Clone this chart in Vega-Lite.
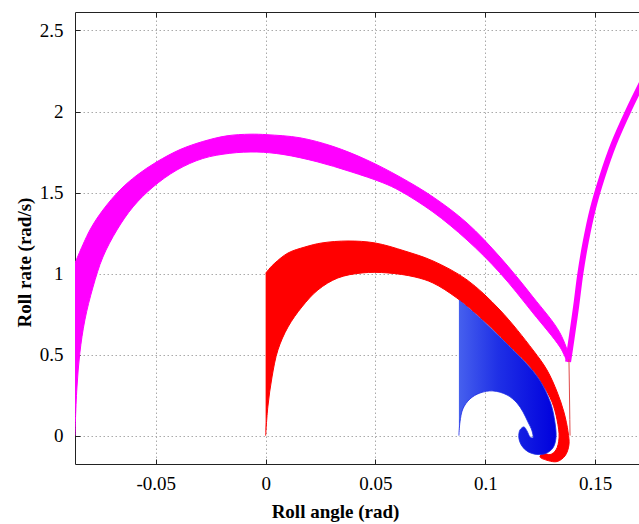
{
  "$schema": "https://vega.github.io/schema/vega-lite/v6.json",
  "width": 564,
  "height": 452,
  "autosize": {"type": "none"},
  "padding": {"left": 75, "top": 12, "right": 0, "bottom": 60},
  "background": "white",
  "config": {
    "view": {"stroke": null},
    "axis": {
      "domainColor": "#222222",
      "domainWidth": 1,
      "tickColor": "#222222",
      "tickSize": -5,
      "labelFontSize": 18,
      "labelColor": "#000000",
      "titleFontSize": 18,
      "titleFontWeight": "bold",
      "titleColor": "#000000",
      "gridColor": "#aaaaaa",
      "gridDash": [1.5, 2.5],
      "gridWidth": 1
    }
  },
  "datasets": {
    "pts": [
      {"s": "M", "i": 1, "x": -0.0868, "y": 1.065},
      {"s": "M", "i": 2, "x": -0.0800, "y": 1.269},
      {"s": "M", "i": 3, "x": -0.0741, "y": 1.392},
      {"s": "M", "i": 4, "x": -0.0663, "y": 1.516},
      {"s": "M", "i": 5, "x": -0.0586, "y": 1.607},
      {"s": "M", "i": 6, "x": -0.0495, "y": 1.690},
      {"s": "M", "i": 7, "x": -0.0390, "y": 1.765},
      {"s": "M", "i": 8, "x": -0.0286, "y": 1.815},
      {"s": "M", "i": 9, "x": -0.0176, "y": 1.850},
      {"s": "M", "i": 10, "x": -0.0071, "y": 1.860},
      {"s": "M", "i": 11, "x": 0.0006, "y": 1.857},
      {"s": "M", "i": 12, "x": 0.0156, "y": 1.838},
      {"s": "M", "i": 13, "x": 0.0306, "y": 1.785},
      {"s": "M", "i": 14, "x": 0.0461, "y": 1.701},
      {"s": "M", "i": 15, "x": 0.0612, "y": 1.596},
      {"s": "M", "i": 16, "x": 0.0762, "y": 1.473},
      {"s": "M", "i": 17, "x": 0.0917, "y": 1.312},
      {"s": "M", "i": 18, "x": 0.1067, "y": 1.102},
      {"s": "M", "i": 19, "x": 0.1217, "y": 0.856},
      {"s": "M", "i": 20, "x": 0.1340, "y": 0.634},
      {"s": "M", "i": 21, "x": 0.1381, "y": 0.479},
      {"s": "M", "i": 22, "x": 0.1377, "y": 0.455},
      {"s": "M", "i": 23, "x": 0.1340, "y": 0.547},
      {"s": "M", "i": 24, "x": 0.1217, "y": 0.757},
      {"s": "M", "i": 25, "x": 0.1067, "y": 1.004},
      {"s": "M", "i": 26, "x": 0.0917, "y": 1.207},
      {"s": "M", "i": 27, "x": 0.0762, "y": 1.380},
      {"s": "M", "i": 28, "x": 0.0612, "y": 1.510},
      {"s": "M", "i": 29, "x": 0.0534, "y": 1.560},
      {"s": "M", "i": 30, "x": 0.0384, "y": 1.630},
      {"s": "M", "i": 31, "x": 0.0234, "y": 1.690},
      {"s": "M", "i": 32, "x": 0.0079, "y": 1.735},
      {"s": "M", "i": 33, "x": -0.0040, "y": 1.750},
      {"s": "M", "i": 34, "x": -0.0163, "y": 1.742},
      {"s": "M", "i": 35, "x": -0.0286, "y": 1.710},
      {"s": "M", "i": 36, "x": -0.0404, "y": 1.639},
      {"s": "M", "i": 37, "x": -0.0513, "y": 1.534},
      {"s": "M", "i": 38, "x": -0.0604, "y": 1.411},
      {"s": "M", "i": 39, "x": -0.0677, "y": 1.269},
      {"s": "M", "i": 40, "x": -0.0741, "y": 1.102},
      {"s": "M", "i": 41, "x": -0.0786, "y": 0.917},
      {"s": "M", "i": 42, "x": -0.0823, "y": 0.714},
      {"s": "M", "i": 43, "x": -0.0846, "y": 0.510},
      {"s": "M", "i": 44, "x": -0.0859, "y": 0.300},
      {"s": "M", "i": 45, "x": -0.0866, "y": 0.097},
      {"s": "M", "i": 46, "x": -0.0868, "y": 0.0},

      {"s": "MB", "i": 1, "x": 0.1377, "y": 0.455},
      {"s": "MB", "i": 2, "x": 0.1393, "y": 0.600},
      {"s": "MB", "i": 3, "x": 0.1414, "y": 0.800},
      {"s": "MB", "i": 4, "x": 0.1433, "y": 1.000},
      {"s": "MB", "i": 5, "x": 0.1458, "y": 1.200},
      {"s": "MB", "i": 6, "x": 0.1490, "y": 1.400},
      {"s": "MB", "i": 7, "x": 0.1533, "y": 1.600},
      {"s": "MB", "i": 8, "x": 0.1585, "y": 1.800},
      {"s": "MB", "i": 9, "x": 0.1650, "y": 2.000},
      {"s": "MB", "i": 10, "x": 0.1722, "y": 2.200},

      {"s": "R", "i": 1, "x": 0.0000, "y": 1.002},
      {"s": "R", "i": 2, "x": 0.0020, "y": 1.035},
      {"s": "R", "i": 3, "x": 0.0042, "y": 1.065},
      {"s": "R", "i": 4, "x": 0.0102, "y": 1.127},
      {"s": "R", "i": 5, "x": 0.0179, "y": 1.164},
      {"s": "R", "i": 6, "x": 0.0256, "y": 1.189},
      {"s": "R", "i": 7, "x": 0.0375, "y": 1.201},
      {"s": "R", "i": 8, "x": 0.0498, "y": 1.189},
      {"s": "R", "i": 9, "x": 0.0634, "y": 1.139},
      {"s": "R", "i": 10, "x": 0.0762, "y": 1.078},
      {"s": "R", "i": 11, "x": 0.0917, "y": 0.961},
      {"s": "R", "i": 12, "x": 0.1067, "y": 0.775},
      {"s": "R", "i": 13, "x": 0.1217, "y": 0.529},
      {"s": "R", "i": 14, "x": 0.1281, "y": 0.405},
      {"s": "R", "i": 15, "x": 0.1327, "y": 0.270},
      {"s": "R", "i": 16, "x": 0.1358, "y": 0.146},
      {"s": "R", "i": 17, "x": 0.1377, "y": 0.023},
      {"s": "R", "i": 18, "x": 0.1381, "y": -0.057},
      {"s": "R", "i": 19, "x": 0.1363, "y": -0.125},
      {"s": "R", "i": 20, "x": 0.1327, "y": -0.160},
      {"s": "R", "i": 21, "x": 0.1286, "y": -0.154},
      {"s": "R", "i": 22, "x": 0.1249, "y": -0.131},
      {"s": "R", "i": 23, "x": 0.1263, "y": -0.110},
      {"s": "R", "i": 24, "x": 0.1295, "y": -0.117},
      {"s": "R", "i": 25, "x": 0.1322, "y": -0.088},
      {"s": "R", "i": 26, "x": 0.1336, "y": -0.014},
      {"s": "R", "i": 27, "x": 0.1327, "y": 0.097},
      {"s": "R", "i": 28, "x": 0.1304, "y": 0.208},
      {"s": "R", "i": 29, "x": 0.1263, "y": 0.313},
      {"s": "R", "i": 30, "x": 0.1217, "y": 0.405},
      {"s": "R", "i": 31, "x": 0.1144, "y": 0.510},
      {"s": "R", "i": 32, "x": 0.0990, "y": 0.714},
      {"s": "R", "i": 33, "x": 0.0871, "y": 0.849},
      {"s": "R", "i": 34, "x": 0.0762, "y": 0.942},
      {"s": "R", "i": 35, "x": 0.0680, "y": 0.979},
      {"s": "R", "i": 36, "x": 0.0557, "y": 1.004},
      {"s": "R", "i": 37, "x": 0.0439, "y": 1.004},
      {"s": "R", "i": 38, "x": 0.0329, "y": 0.973},
      {"s": "R", "i": 39, "x": 0.0238, "y": 0.899},
      {"s": "R", "i": 40, "x": 0.0165, "y": 0.794},
      {"s": "R", "i": 41, "x": 0.0102, "y": 0.671},
      {"s": "R", "i": 42, "x": 0.0056, "y": 0.529},
      {"s": "R", "i": 43, "x": 0.0029, "y": 0.362},
      {"s": "R", "i": 44, "x": 0.0010, "y": 0.177},
      {"s": "R", "i": 45, "x": 0.0000, "y": 0.000},

      {"s": "RL", "i": 1, "x": 0.1381, "y": 0.470},
      {"s": "RL", "i": 2, "x": 0.1383, "y": 0.300},
      {"s": "RL", "i": 3, "x": 0.1385, "y": 0.100},
      {"s": "RL", "i": 4, "x": 0.1386, "y": 0.000},

      {"s": "B", "i": 1, "x": 0.0880, "y": 0.837},
      {"s": "B", "i": 2, "x": 0.0990, "y": 0.708},
      {"s": "B", "i": 3, "x": 0.1144, "y": 0.504},
      {"s": "B", "i": 4, "x": 0.1217, "y": 0.399},
      {"s": "B", "i": 5, "x": 0.1263, "y": 0.307},
      {"s": "B", "i": 6, "x": 0.1299, "y": 0.196},
      {"s": "B", "i": 7, "x": 0.1317, "y": 0.085},
      {"s": "B", "i": 8, "x": 0.1322, "y": -0.014},
      {"s": "B", "i": 9, "x": 0.1308, "y": -0.076},
      {"s": "B", "i": 10, "x": 0.1276, "y": -0.110},
      {"s": "B", "i": 11, "x": 0.1235, "y": -0.116},
      {"s": "B", "i": 12, "x": 0.1194, "y": -0.099},
      {"s": "B", "i": 13, "x": 0.1167, "y": -0.064},
      {"s": "B", "i": 14, "x": 0.1153, "y": -0.014},
      {"s": "B", "i": 15, "x": 0.1158, "y": 0.035},
      {"s": "B", "i": 16, "x": 0.1176, "y": 0.054},
      {"s": "B", "i": 17, "x": 0.1190, "y": 0.029},
      {"s": "B", "i": 18, "x": 0.1204, "y": -0.008},
      {"s": "B", "i": 19, "x": 0.1217, "y": -0.014},
      {"s": "B", "i": 20, "x": 0.1213, "y": 0.029},
      {"s": "B", "i": 21, "x": 0.1194, "y": 0.085},
      {"s": "B", "i": 22, "x": 0.1172, "y": 0.146},
      {"s": "B", "i": 23, "x": 0.1144, "y": 0.202},
      {"s": "B", "i": 24, "x": 0.1099, "y": 0.251},
      {"s": "B", "i": 25, "x": 0.1035, "y": 0.276},
      {"s": "B", "i": 26, "x": 0.0976, "y": 0.263},
      {"s": "B", "i": 27, "x": 0.0930, "y": 0.226},
      {"s": "B", "i": 28, "x": 0.0898, "y": 0.165},
      {"s": "B", "i": 29, "x": 0.0885, "y": 0.085},
      {"s": "B", "i": 30, "x": 0.0880, "y": 0.000}
    ]
  },
  "data": {"name": "pts"},
  "resolve": {"axis": {"x": "independent"}},
  "encoding": {
    "y": {
      "field": "y",
      "type": "quantitative",
      "scale": {"domain": [-0.175, 2.614], "nice": false, "zero": false},
      "axis": {
        "values": [0, 0.5, 1, 1.5, 2, 2.5],
        "labelExpr": "toString(datum.value)",
        "labelFont": "Liberation Serif",
        "titleFont": "Liberation Serif",
        "labelFontSize": 19,
        "titleFontSize": 19,
        "labelPadding": 17,
        "title": "Roll rate (rad/s)",
        "titleAngle": -90,
        "titleX": -45,
        "titleY": 250,
        "titleAlign": "center",
        "titleBaseline": "alphabetic"
      }
    },
    "order": {"field": "i", "type": "quantitative"}
  },
  "layer": [
    {
      "transform": [{"filter": "datum.s === 'M'"}],
      "mark": {"type": "line", "interpolate": "catmull-rom", "fill": "#ff00ff", "stroke": "#ff00ff", "strokeWidth": 1, "strokeJoin": "round", "clip": true},
      "encoding": {
        "x": {
          "field": "x",
          "type": "quantitative",
          "scale": {"domain": [-0.0868, 0.17], "nice": false, "zero": false},
          "axis": {
            "values": [-0.05, 0, 0.05, 0.1, 0.15],
            "labelExpr": "toString(datum.value)",
            "labelFont": "Liberation Serif",
            "titleFont": "Liberation Serif",
            "labelFontSize": 19,
            "titleFontSize": 19,
            "labelPadding": 15,
            "title": "Roll angle (rad)",
            "titleX": 260,
            "titleY": 53,
            "titleAlign": "center",
            "titleBaseline": "alphabetic"
          }
        }
      }
    },
    {
      "transform": [{"filter": "datum.s === 'MB'"}],
      "mark": {"type": "line", "interpolate": "catmull-rom", "stroke": "#ff00ff", "strokeWidth": 6, "strokeJoin": "round", "clip": true},
      "encoding": {
        "x": {"field": "x", "type": "quantitative", "axis": null}
      }
    },
    {
      "transform": [{"filter": "datum.s === 'R'"}],
      "mark": {"type": "line", "interpolate": "catmull-rom", "fill": "#ff0000", "stroke": "#ff0000", "strokeWidth": 1, "strokeJoin": "round", "clip": true},
      "encoding": {
        "x": {"field": "x", "type": "quantitative", "axis": null}
      }
    },
    {
      "transform": [{"filter": "datum.s === 'RL'"}],
      "mark": {"type": "line", "stroke": "#e04848", "strokeWidth": 1, "clip": true},
      "encoding": {
        "x": {"field": "x", "type": "quantitative", "axis": null}
      }
    },
    {
      "transform": [{"filter": "datum.s === 'B'"}],
      "mark": {
        "type": "line",
        "interpolate": "catmull-rom",
        "fill": {"gradient": "linear", "x1": 0, "y1": 0, "x2": 1, "y2": 0, "stops": [{"offset": 0, "color": "#4660ee"}, {"offset": 0.4, "color": "#1f30e6"}, {"offset": 1, "color": "#0000dd"}]},
        "stroke": "#1a2ae4",
        "strokeWidth": 0.8,
        "strokeJoin": "round",
        "clip": true
      },
      "encoding": {
        "x": {
          "field": "x",
          "type": "quantitative",
          "axis": {
            "orient": "top",
            "values": [-0.05, 0, 0.05, 0.1, 0.15],
            "labels": false,
            "grid": false,
            "title": null
          }
        }
      }
    }
  ]
}
